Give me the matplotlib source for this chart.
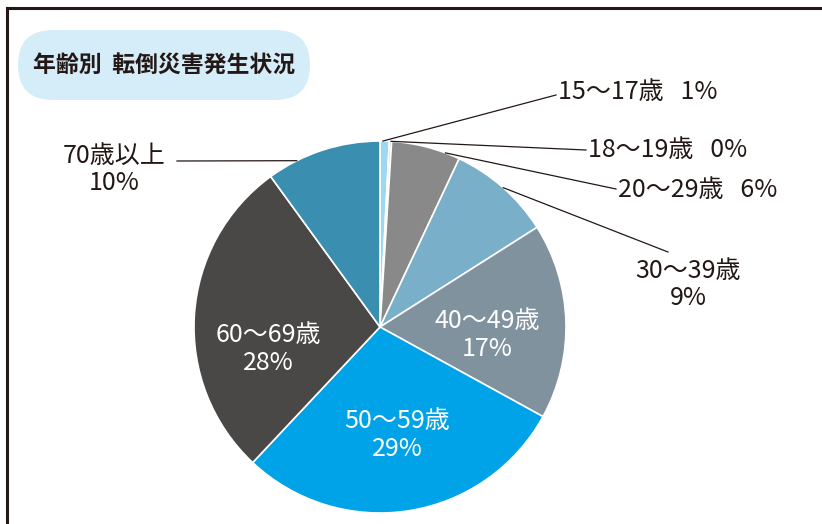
import numpy as np
import matplotlib
matplotlib.use("Agg")
import matplotlib.pyplot as plt
from matplotlib.patches import FancyBboxPatch

plt.rcParams['font.family'] = ['Noto Sans CJK JP', 'DejaVu Sans']

# data (shares, labels as printed)
ages = ['15〜17歳', '18〜19歳', '20〜29歳', '30〜39歳', '40〜49歳', '50〜59歳', '60〜69歳', '70歳以上']
shares = [0.8, 0.2, 6.0, 9.0, 17.0, 29.0, 28.0, 10.0]
pct_labels = ['1%', '0%', '6%', '9%', '17%', '29%', '28%', '10%']
colors = ['#9fd7f3', '#c8d6de', '#898989', '#7aafc9', '#7f929e', '#00a2e8', '#4a4846', '#3a8fb0']

W, H = 822, 524
ink = '#231815'

fig = plt.figure(figsize=(W / 100, H / 100), dpi=100)
ax = fig.add_axes([0, 0, 1, 1])

cx, cy, r = 380, H - 327, 186
ax.pie(shares, colors=colors, startangle=90, counterclock=False,
       center=(cx, cy), radius=r,
       wedgeprops=dict(edgecolor='white', linewidth=1.2))
ax.set_xlim(0, W)
ax.set_ylim(0, H)
ax.set_aspect('equal')
ax.axis('off')

# outer frame (only left and top edges visible)
ax.plot([7, 7], [-5, H - 8], color=ink, lw=2.2, solid_capstyle='projecting')
ax.plot([7, W + 5], [H - 8, H - 8], color=ink, lw=2.2, solid_capstyle='projecting')

# title box
box = FancyBboxPatch((18, H - 100), 292, 70,
                     boxstyle='round,pad=0,rounding_size=35',
                     facecolor='#d5ecf9', edgecolor='none')
ax.add_patch(box)
ax.text(33, H - 65, '年齢別  転倒災害発生状況', fontsize=16.5, fontweight='bold',
        color=ink, ha='left', va='center')

fs = 18

def edge_pt(deg):
    a = np.deg2rad(deg)
    return cx + r * np.sin(a), cy + r * np.cos(a)

# outside labels: (index, anchor angle on rim, line end, text pos, ha)
outer = [
    (0, 0.9, (556, 95), (558, 92), 'left'),
    (1, 3.4, (586, 150), (588, 150), 'left'),
    (2, 20.6, (616, 189), (618, 190), 'left'),
    (3, 41.5, (668, 252), (688, 284.5), 'center'),
    (7, 333.4, (177, 161), (114.5, 169.5), 'center'),
]
for i, ang, end, tpos, ha in outer:
    x0, y0 = edge_pt(ang)
    ax.plot([x0, end[0]], [y0, H - end[1]], color=ink, lw=0.9, zorder=5)
    if ha == 'left':
        txt = ages[i] + '   ' + pct_labels[i]
    else:
        txt = ages[i] + '\n' + pct_labels[i]
    ax.text(tpos[0], H - tpos[1], txt, fontsize=fs, color=ink, ha=ha, va='center',
            linespacing=1.05)

# inside labels
inner = [(4, (487, 335)), (5, (397, 435)), (6, (268, 349))]
for i, pos in inner:
    ax.text(pos[0], H - pos[1], ages[i] + '\n' + pct_labels[i], fontsize=fs,
            color='white', ha='center', va='center', linespacing=1.05)

fig.savefig('out.png', dpi=100)
